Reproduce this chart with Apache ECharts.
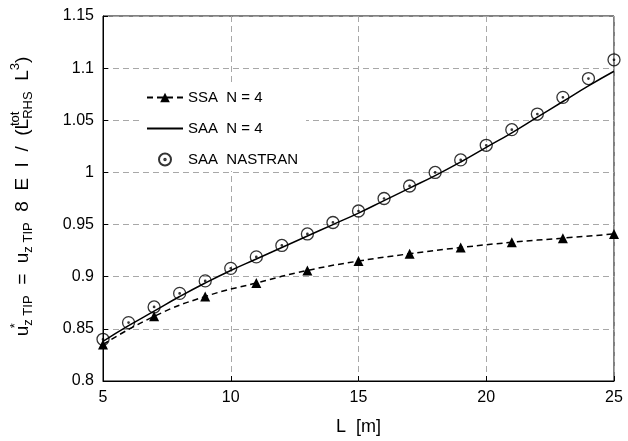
<!DOCTYPE html>
<html>
<head>
<meta charset="utf-8">
<script src="https://cdn.jsdelivr.net/npm/echarts@6/dist/echarts.min.js"></script>
<style>
  html, body { margin: 0; padding: 0; background: #fff; }
  #main { width: 628px; height: 441px; }
</style>
</head>
<body>
<div id="main"></div>
<script>
// L [m]
var lenAll = [5, 6, 7, 8, 9, 10, 11, 12, 13, 14, 15, 16, 17, 18, 19, 20, 21, 22, 23, 24, 25];
var lenOdd = [5, 7, 9, 11, 13, 15, 17, 19, 21, 23, 25];
// values
var ssaN4 = [0.835, 0.862, 0.881, 0.894, 0.906, 0.915, 0.922, 0.928, 0.933, 0.937, 0.941];
var saaN4 = [0.838, 0.853, 0.867, 0.881, 0.894, 0.906, 0.917, 0.928, 0.939, 0.950, 0.961,
             0.973, 0.985, 0.997, 1.010, 1.024, 1.038, 1.053, 1.068, 1.083, 1.097];
var saaNastran = [0.840, 0.856, 0.871, 0.884, 0.896, 0.908, 0.919, 0.930, 0.941, 0.952, 0.963,
                  0.975, 0.987, 1.000, 1.012, 1.026, 1.041, 1.056, 1.072, 1.090, 1.108];
var seriesNames = ['SSA  N = 4', 'SAA  N = 4', 'SAA  NASTRAN'];

function pairs(xs, ys) {
    return xs.map(function (x, i) { return [x, ys[i]]; });
}

var font = 'Liberation Sans, Arial, sans-serif';
// circle with a small dot in the middle
var dotCircle = 'path://M0,-10A10,10 0 1,1 0,10A10,10 0 1,1 0,-10Z M0,-1.2A1.2,1.2 0 1,1 0,1.2A1.2,1.2 0 1,1 0,-1.2Z';

var myChart = echarts.init(document.getElementById('main'));
var option = {
    backgroundColor: '#fff',
    animation: false,
    textStyle: { fontFamily: font },
    grid: {
        left: 103, right: 14, top: 16, bottom: 59,
        show: true, borderColor: '#000', borderWidth: 1
    },
    legend: {
        orient: 'vertical',
        left: 140, top: 86,
        itemWidth: 36, itemHeight: 12,
        itemGap: 16,
        padding: [4, 8, 4, 6],
        backgroundColor: '#fff',
        textStyle: { fontSize: 15, color: '#000', fontFamily: font },
        data: seriesNames
    },
    xAxis: {
        type: 'value',
        min: 5, max: 25, interval: 5,
        name: 'L  [m]',
        nameLocation: 'middle',
        nameGap: 37,
        nameTextStyle: { fontSize: 18, color: '#000' },
        axisLine: { lineStyle: { color: '#000' } },
        axisTick: { inside: true, length: 5, lineStyle: { color: '#000' } },
        axisLabel: { fontSize: 16, color: '#000', margin: 9 },
        splitLine: { lineStyle: { color: '#a8a8a8', type: [6, 4], width: 1 } }
    },
    yAxis: {
        type: 'value',
        min: 0.8, max: 1.15, interval: 0.05,
        name: '{m|u}{sp|*}{sb|z TIP}{m|  =  u}{sb|z TIP}{m|  8  E  I  /  (L}{sp|tot}{sb|RHS}{m|  L}{s3|3}{m|)}',
        nameLocation: 'middle',
        nameGap: 66,
        nameTextStyle: {
            color: '#000',
            padding: [0, 0, 0, 4],
            rich: {
                m: { fontSize: 19, color: '#000', fontFamily: font },
                sp: { fontSize: 13, color: '#000', fontFamily: font, width: 0, padding: [0, 0, 15, 0] },
                s3: { fontSize: 13, color: '#000', fontFamily: font, padding: [0, 0, 15, 0] },
                sb: { fontSize: 13, color: '#000', fontFamily: font, padding: [10, 0, 0, 0] }
            }
        },
        axisLine: { lineStyle: { color: '#000' } },
        axisTick: { inside: true, length: 5, lineStyle: { color: '#000' } },
        axisLabel: { fontSize: 16, color: '#000', margin: 9 },
        splitLine: { lineStyle: { color: '#a8a8a8', type: [6, 4], width: 1 } }
    },
    series: [
        {
            name: seriesNames[0],
            type: 'line',
            smooth: true,
            data: pairs(lenOdd, ssaN4),
            symbol: 'triangle',
            symbolSize: 10,
            itemStyle: { color: '#000' },
            lineStyle: { color: '#000', width: 1.5, type: [6, 4] },
            z: 3
        },
        {
            name: seriesNames[1],
            type: 'line',
            smooth: true,
            data: pairs(lenAll, saaN4),
            showSymbol: false,
            symbol: 'none',
            itemStyle: { color: 'rgba(0,0,0,0)' },
            lineStyle: { color: '#000', width: 1.5 },
            z: 3
        },
        {
            name: seriesNames[2],
            type: 'scatter',
            data: pairs(lenAll, saaNastran),
            symbol: dotCircle,
            symbolSize: 12,
            itemStyle: { color: 'rgba(0,0,0,0)', borderColor: '#000', borderWidth: 1.3 },
            z: 4
        }
    ]
};
myChart.setOption(option);
</script>
</body>
</html>
